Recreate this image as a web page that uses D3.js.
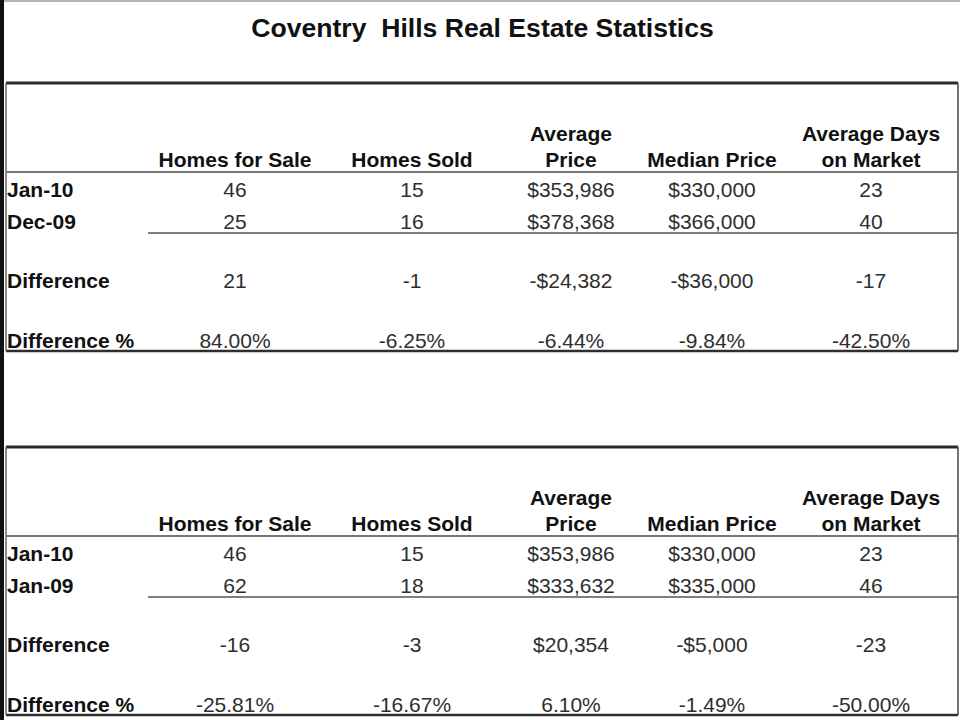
<!doctype html>
<html lang="en">
<head>
<meta charset="utf-8">
<script src="https://cdn.jsdelivr.net/npm/d3@7/dist/d3.min.js"></script>
<style>
  body {margin:0; background:#fff}
  svg {display:block; font-family:"Liberation Sans", Arial, sans-serif}
  .hdr {font-weight:bold; font-size:21px; fill:#111}
  .lbl {font-weight:bold; font-size:21px; fill:#111}
  .val {font-size:21px; fill:#2e2e2e}
</style>
<title>Coventry Hills Real Estate Statistics</title>
</head>
<body>
<script>
// data
const title = "Coventry  Hills Real Estate Statistics";
const columns = ["Homes for Sale", "Homes Sold", "Average Price", "Median Price", "Average Days on Market"];
const headerLines = [["Homes for Sale"], ["Homes Sold"], ["Average", "Price"], ["Median Price"], ["Average Days", "on Market"]];

const rowLabelsMonth = ["Jan-10", "Dec-09", "Difference", "Difference %"];
const rowLabelsYear = ["Jan-10", "Jan-09", "Difference", "Difference %"];

const jan10 = ["46", "15", "$353,986", "$330,000", "23"];
const dec09 = ["25", "16", "$378,368", "$366,000", "40"];
const diffMonth = ["21", "-1", "-$24,382", "-$36,000", "-17"];
const diffPctMonth = ["84.00%", "-6.25%", "-6.44%", "-9.84%", "-42.50%"];

const jan09 = ["62", "18", "$333,632", "$335,000", "46"];
const diffYear = ["-16", "-3", "$20,354", "-$5,000", "-23"];
const diffPctYear = ["-25.81%", "-16.67%", "6.10%", "-1.49%", "-50.00%"];

// layout
const W = 960, H = 720;
const left = 6, right = 958;

const svg = d3.select("body").append("svg")
  .attr("width", W)
  .attr("height", H);

// column centres
const x = d3.scaleOrdinal()
  .domain(columns)
  .range([235, 412, 571, 712, 871]);

// row baselines, relative to the top border of a table
const y = d3.scaleOrdinal()
  .domain([0, 1, 2, 3])
  .range([114, 145.5, 204.5, 264.5]);

// frame bits from the screen grab
svg.append("line")
  .attr("x1", 0).attr("x2", W)
  .attr("y1", 1).attr("y2", 1)
  .attr("stroke", "#b5b5b5").attr("stroke-width", 2);

svg.append("rect")
  .attr("x", 0).attr("y", 0)
  .attr("width", 4).attr("height", H)
  .attr("fill", "#111");

svg.append("text")
  .attr("x", 482.5)
  .attr("y", 37)
  .attr("text-anchor", "middle")
  .style("white-space", "pre")
  .attr("font-size", "26.6px")
  .attr("font-weight", "bold")
  .attr("fill", "#111")
  .text(title);

function drawTable(top, rowLabels, rows) {
  let g = svg.append("g")
    .attr("transform", "translate(0," + top + ")");

  // borders
  g.append("line")
    .attr("x1", left).attr("x2", right)
    .attr("y1", 0).attr("y2", 0)
    .attr("stroke", "#2a2a2a").attr("stroke-width", 3);

  g.append("line")
    .attr("x1", left).attr("x2", right)
    .attr("y1", 268).attr("y2", 268)
    .attr("stroke", "#2e2e2e").attr("stroke-width", 2.5);

  g.append("line")
    .attr("x1", left).attr("x2", left)
    .attr("y1", 0).attr("y2", 268)
    .attr("stroke", "#666").attr("stroke-width", 1.5);

  g.append("line")
    .attr("x1", right).attr("x2", right)
    .attr("y1", 0).attr("y2", 268)
    .attr("stroke", "#444").attr("stroke-width", 1.5);

  // header rule
  g.append("line")
    .attr("x1", left).attr("x2", right)
    .attr("y1", 89).attr("y2", 89)
    .attr("stroke", "#777").attr("stroke-width", 2);

  // underline under the two compared rows
  g.append("line")
    .attr("x1", 148).attr("x2", right)
    .attr("y1", 150).attr("y2", 150)
    .attr("stroke", "#555").attr("stroke-width", 1.5);

  // headers
  let hdr = g.selectAll("text.hdr")
    .data(columns)
    .enter()
    .append("text")
    .attr("class", "hdr")
    .attr("text-anchor", "middle")
    .attr("x", (d) => x(d))
    .attr("y", 83.5);

  hdr.each(function(d, i) {
    let lines = headerLines[i];
    let t = d3.select(this);
    lines.forEach((line, j) => {
      t.append("tspan")
        .attr("x", x(d))
        .attr("y", 83.5 - (lines.length - 1 - j) * 25.5)
        .text(line);
    });
  });

  // row labels
  g.selectAll("text.lbl")
    .data(rowLabels)
    .enter()
    .append("text")
    .attr("class", "lbl")
    .attr("x", 7)
    .attr("y", (d, i) => y(i))
    .text((d) => d);

  // values
  rows.forEach((row, i) => {
    g.selectAll("text.val-" + i)
      .data(row)
      .enter()
      .append("text")
      .attr("class", "val val-" + i)
      .attr("text-anchor", "middle")
      .attr("x", (d, j) => x(columns[j]))
      .attr("y", y(i))
      .text((d) => d);
  });
}

drawTable(83, rowLabelsMonth, [jan10, dec09, diffMonth, diffPctMonth]);
drawTable(447, rowLabelsYear, [jan10, jan09, diffYear, diffPctYear]);
</script>
</body>
</html>
